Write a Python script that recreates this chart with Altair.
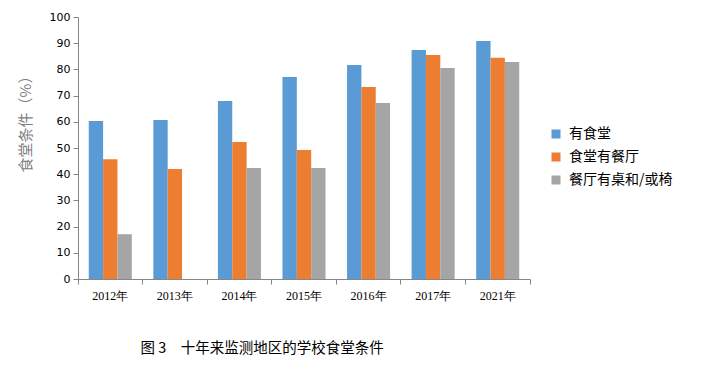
import altair as alt
import pandas as pd

years = ["2012年", "2013年", "2014年", "2015年", "2016年", "2017年", "2021年"]
series = ["有食堂", "食堂有餐厅", "餐厅有桌和/或椅"]
has_canteen = [60.3, 60.7, 67.9, 77.1, 81.7, 87.4, 90.8]
has_dining_room = [45.7, 42.0, 52.3, 49.2, 73.3, 85.5, 84.4]
has_tables = [17.1, None, 42.4, 42.4, 67.2, 80.5, 82.8]
colors = ["#5B9BD5", "#ED7D31", "#A5A5A5"]
caption = "图 3　十年来监测地区的学校食堂条件"

rows = []
for name, vals in zip(series, [has_canteen, has_dining_room, has_tables]):
    for y, v in zip(years, vals):
        if v is not None:
            rows.append({"year": y, "series": name, "value": v})
df = pd.DataFrame(rows)

W, H = 452, 262

chart = alt.Chart(df).mark_bar().encode(
    x=alt.X("year:N", sort=years,
            scale=alt.Scale(domain=years, paddingInner=0, paddingOuter=0),
            axis=alt.Axis(title=caption, labelAngle=0, bandPosition=1, tickExtra=True,
                          tickSize=5, tickColor="#868686",
                          domainColor="#868686", labelFont="Liberation Serif",
                          labelFontSize=12, labelColor="#000000", labelPadding=6,
                          grid=False,
                          titleFont="Noto Sans CJK SC", titleFontSize=14.5,
                          titleFontWeight="normal", titleColor="#000000",
                          titleX=62, titleY=69, titleAlign="left",
                          titleBaseline="middle")),
    xOffset=alt.XOffset("series:N", sort=series,
                        scale=alt.Scale(domain=series, paddingInner=0, paddingOuter=0.75)),
    y=alt.Y("value:Q", scale=alt.Scale(domain=[0, 100]),
            axis=alt.Axis(values=list(range(0, 101, 10)), title="食堂条件（%）",
                          grid=False, tickSize=5, tickColor="#868686",
                          domainColor="#868686", labelFont="DejaVu Sans",
                          labelFontSize=11, labelColor="#000000", labelPadding=3,
                          titleFont="Noto Sans CJK SC", titleFontSize=15,
                          titleFontWeight="normal", titleColor="#7F7F7F",
                          titleX=-53, titleY=103, titleAngle=270,
                          titleAlign="center", titleBaseline="middle")),
    color=alt.Color("series:N", sort=series,
                    scale=alt.Scale(domain=series, range=colors),
                    legend=alt.Legend(title=None, orient="none", legendX=471, legendY=110,
                                      symbolType="square", symbolSize=81,
                                      symbolStrokeWidth=0, labelFont="Noto Sans CJK SC",
                                      labelFontSize=14, labelColor="#000000",
                                      labelOffset=6, rowPadding=9, padding=0)),
).properties(
    width=W, height=H,
    autosize=alt.AutoSizeParams(type="none"),
    padding={"left": 70, "top": 9, "right": 172, "bottom": 87},
).configure_view(stroke=None)

chart.save("out.html", embed_options={"renderer": "svg", "actions": False})
